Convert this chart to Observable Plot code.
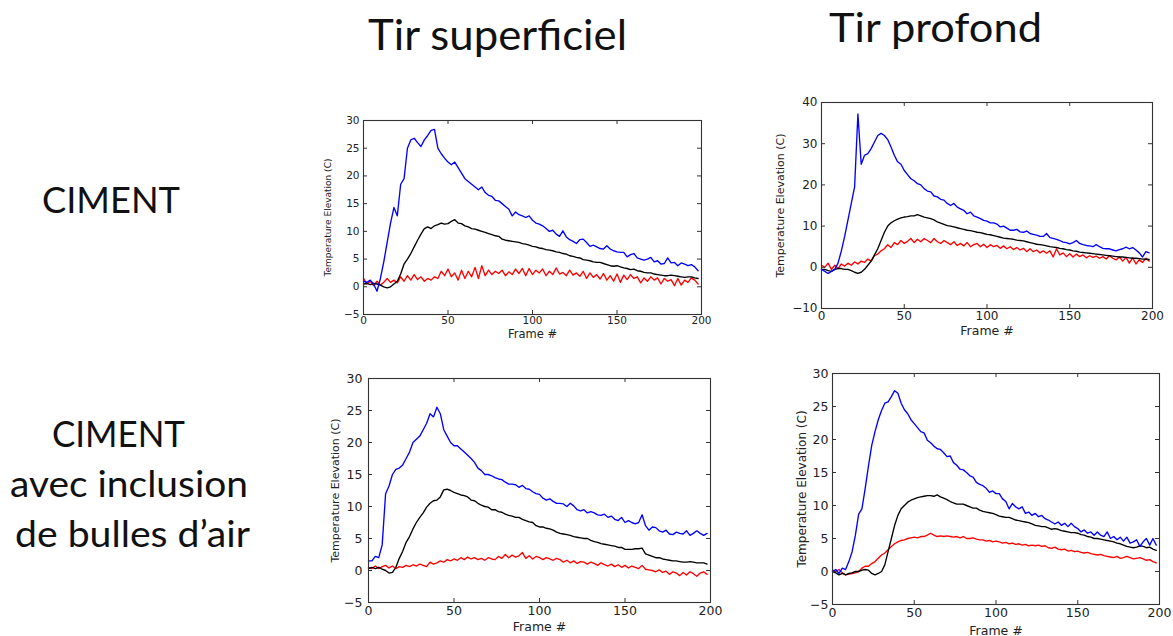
<!DOCTYPE html>
<html>
<head>
<meta charset="utf-8">
<script src="https://cdn.jsdelivr.net/npm/d3@7"></script>
<script src="https://cdn.jsdelivr.net/npm/@observablehq/plot@0.6"></script>
<style>
  html, body { margin: 0; padding: 0; background: #fff; }
  #page { position: relative; width: 1173px; height: 636px; overflow: hidden; background: #fff; }
  .panel { position: absolute; }
  #titles { position: absolute; left: 0; top: 0; }
</style>
</head>
<body>
<div id="page">
  <svg id="titles" width="1173" height="636"></svg>
</div>
<script>
// ---------------- DATA ----------------
const columnTitles = ["Tir superficiel", "Tir profond"];
const rowTitles = [["CIMENT"], ["CIMENT", "avec inclusion", "de bulles d\u2019air"]];
const xLabel = "Frame #";
const yLabel = "Temperature Elevation (C)";
const xTicks = [0, 50, 100, 150, 200];
const yTicks30 = [-5, 0, 5, 10, 15, 20, 25, 30];
const yTicks40 = [-10, 0, 10, 20, 30, 40];

const frames = [0,2,4,6,8,10,12,14,16,18,20,22,24,26,28,30,32,34,36,38,40,42,44,46,48,50,52,54,56,58,60,62,64,66,68,70,72,74,76,78,80,82,84,86,88,90,92,94,96,98,100,102,104,106,108,110,112,114,116,118,120,122,124,126,128,130,132,134,136,138,140,142,144,146,148,150,152,154,156,158,160,162,164,166,168,170,172,174,176,178,180,182,184,186,188,190,192,194,196,198];

// Ciment, tir superficiel
const cimSupBlue = [1.0,0.8,1.2,0.5,-0.8,1.5,4.5,8,11.5,14.3,12.8,18.5,19.5,25,26.5,26.8,26,25.3,26.5,27.3,28.2,28.4,25,24,23.2,22.5,22,22.5,21.5,20.5,19.5,19,18.5,18,17.5,18,17,16.5,16.3,15.6,15.5,15,14.5,14,12.8,13.5,13,12.8,12.5,12.8,12,11.5,11.3,11,10.5,10,10.2,9.5,9.1,10.1,9,8.5,8.2,7.8,8.5,8.6,8,7.3,7.5,7.2,6.9,6.8,7.4,6.8,6.5,6.3,6.2,6.2,5.4,5.8,6,5.2,5,4.8,5,5.3,4.5,4.7,4.1,4.2,5.2,4.3,4.4,3.8,4.3,4.1,3.8,4,3.6,2.9];
const cimSupBlack = [0.5,0.6,0.4,0.6,0.5,0.3,0,-0.2,0,0.5,1,2.3,4.1,5,6,7.2,8.4,9.5,10.5,10.8,10.5,11,11.2,11.5,11.3,11.4,11.8,12.1,11.5,11.4,11,10.8,10.5,10.4,10.2,10,9.8,9.6,9.4,9.2,9.1,8.6,8.4,8.3,8.2,8.1,8,7.8,7.7,7.5,7.3,7.2,7,6.9,6.7,6.6,6.5,6.3,6.2,6,5.9,5.6,5.5,5.3,5.2,4.9,4.8,4.7,4.5,4.4,4.4,4.2,4,3.8,3.7,3.8,3.6,3.4,3.3,3.1,3.2,2.9,2.8,2.6,2.5,2.5,2.3,2.2,2.1,2,2,2.1,2,1.9,1.8,1.7,1.8,1.8,1.6,1.5];
const cimSupRed = [1.5,0.5,1,0.2,1,0.3,0.8,1.5,0.8,1.2,0.7,1.8,1,2,1.2,2.2,1.3,1.8,1,1.5,1.2,1.8,1.5,2.8,2,3.2,1.8,2.5,1.2,3,1.5,2.8,1.8,3.5,1.5,3.8,2,3,2.2,2.8,2.4,3,2,2.7,2.2,3.2,2.4,3.3,2,3.3,2.2,3,2.5,3.2,2,2.8,2.2,3.4,2.3,2.6,2,3,2.1,2.5,1.9,2.8,1.5,2.5,1.7,2.2,1.4,2.4,1.2,2,1,2.3,0.8,2.1,1.3,2.2,1.5,1.8,0.7,1.6,1,1.8,1.2,1.6,0.5,1.5,1,1.3,0.2,1.5,0.3,1.2,0.8,1.6,1.2,0.5];

// Ciment, tir profond
const cimProBlue = [-0.5,-1,-1.5,-1,-0.5,1,4,7.5,11.5,15.5,19.5,37.2,25,27.2,27.6,28.8,30.4,32,32.5,32,31,29.2,27.2,25.6,25,23.5,22.5,21.5,21,20.3,20,19.1,18.5,18.3,17.3,17.1,16.5,16.3,15.5,15,15.5,14.6,14.2,13.8,13,13.4,12.5,12.2,11.8,11.4,11.2,10.8,10.8,10.5,9.8,10,9.5,9,9,9.2,8.6,8.5,8.8,8.2,8,7.8,7.5,7.5,8.2,7.2,7,6.8,6.5,6.1,6,5.7,6,6.5,5.8,5.5,5.3,5.2,5,5.5,5,4.6,4.5,4.5,4.2,4,4.3,4.5,4.9,4.5,4.8,4.2,3.5,2.5,3.8,3.5];
const cimProBlack = [-0.5,-0.5,-0.8,-1,-0.5,-0.3,-0.3,-0.5,-0.5,-0.8,-1.2,-1.5,-1.2,-0.5,0.5,1.5,3,4.5,6.5,8.5,10,10.8,11.3,11.7,12,12.2,12.3,12.5,12.5,12.8,12.5,12.2,12,11.8,11.5,11,10.7,10.4,10.1,10,9.8,9.6,9.4,9.2,9,8.9,8.7,8.5,8.4,8.2,8,7.9,7.7,7.5,7.3,7.1,7,6.9,6.8,6.6,6.5,6.4,6.2,6,5.8,5.6,5.5,5.4,5.2,5,4.9,4.8,4.6,4.5,4.3,4.2,4,3.9,3.7,3.6,3.5,3.4,3.3,3.2,3.1,3,2.9,2.8,2.7,2.6,2.5,2.5,2.4,2.3,2.2,2.2,2.1,2,2,1.9];
const cimProRed = [0.5,0,1,-0.5,0.5,-0.3,0.8,0.3,1,0.5,1.3,0.8,1.5,1.2,2,1.5,2.8,3.2,4,4.5,5.5,4.8,6,5.5,6.5,5.8,6.3,7,6,6.8,6.2,7,6.5,6,7,6.2,5.8,6.5,6,5.5,6.2,5.3,5.8,5.2,6,5,5.5,5.8,5,5.6,4.8,5.5,5,5.3,4.6,5.2,4.5,5,4.3,4.8,4.2,4.6,3.8,4.5,3.8,4.2,3.5,4,3.4,4,2.5,4.5,3,3.5,2.6,3.3,2.5,3.2,2.6,3,2.3,2.8,2.4,2.7,2.2,2.6,2,2.8,2.2,1.8,2.5,1.5,2.4,1,2.3,0.8,1.8,1.2,2.2,1.5];

// Ciment avec bulles d'air, tir superficiel
const bulSupBlue = [1.5,1.5,2.2,2,4,12,13.2,15,15.8,16,16.5,17.5,18.5,20,20.5,21,22,23,24.5,24,25.5,24.5,22,21,20,19.5,19.5,19,18.5,18,17.5,16.9,16,15.6,15,15,14.8,14.5,14.3,14.2,13.8,13.5,13.5,13.4,13,13.3,12.8,12.7,12.3,12,11.9,11.3,11,11.2,10.8,10.5,10.5,10.4,10,10.5,10.1,9.5,9.3,9.5,9,9.2,9,8.7,8.6,8.8,8.3,8.5,8,7.8,8.3,7.5,7.8,7.5,7.3,7.5,8.7,7,6.3,6.8,6.7,6.2,6,6.3,5.7,5.6,6,5.8,5.7,6.2,5.5,5.8,6.2,5.8,5.5,5.8];
const bulSupBlack = [0.3,0.5,0.3,0.5,0.2,0,-0.4,-0.3,0.5,1.9,3,4.4,5.3,6.5,7.5,8.3,9,9.9,10.5,10.9,11,11.5,12.6,12.7,12.5,12.2,12,11.8,11.7,11.5,11,10.9,10.5,10.2,10,9.9,9.5,9.5,9.2,9.1,8.8,8.6,8.5,8.3,8.3,8,7.8,7.6,7.5,7,6.8,6.8,6.6,6.5,6.3,6,5.8,5.7,5.6,5.5,5.3,5.2,5.1,5,5,4.7,4.5,4.4,4.2,4.1,4,3.9,3.8,3.6,3.6,3.3,3.3,3.3,3.4,3.4,3.5,2.6,2.4,2.2,2,2,1.8,1.7,1.6,1.5,1.5,1.4,1.3,1.3,1.4,1.3,1.2,1.2,1.2,1];
const bulSupRed = [0.5,0.3,0.7,0.3,0.6,0.8,0.4,0.7,0.3,0.6,0.5,0.8,0.6,0.9,0.7,1,0.8,0.6,1.3,1,1.2,1.5,1.3,1.7,1.5,1.8,1.6,2,1.7,2.1,1.8,2,1.7,1.9,1.6,2,1.8,1.7,2.2,1.9,2.5,2,2.4,2.1,2.3,2.8,1.9,2.3,1.8,2.2,2,1.7,2,1.8,1.6,1.9,1.7,1.3,1.6,1.2,1.5,1.1,1.4,1.3,1,1.3,1.1,0.8,1.2,0.9,0.7,1,0.6,0.9,0.5,0.8,0.4,0.7,0.5,0.3,0.8,0.2,0.1,0,-0.2,0.1,-0.3,-0.1,-0.6,-0.2,-0.4,-0.8,-0.3,-0.7,-0.2,-0.5,-0.9,-0.4,-0.2,-0.6];

// Ciment avec bulles d'air, tir profond
const bulProBlue = [0,0.3,-0.3,0.5,0.3,1.5,3,5.5,8.7,9.5,12.6,16,19.1,21.2,23,24.4,25.5,25.7,26.5,27.4,27,25.5,24.5,23.9,23,22.4,21.8,21.2,21,19.9,19.5,19,18.6,18.5,18,17.4,17.5,16.5,16.1,15.5,15.4,15,14.5,14.3,13.5,13.2,13,12.6,12,12.2,11.8,11.8,11,10.6,9.5,10.3,9.8,9.5,9.8,8.8,9,8.5,8.8,8.3,8.5,8,7.8,7.5,7.2,7.5,7,7.3,6.8,7.3,6.8,6.5,6,6.3,5.8,6,5.5,6,5.5,5.3,6,5,5.3,4.8,5.2,4.6,5.2,4.3,4.5,4.8,3.8,4.5,5,4,5,4];
const bulProBlack = [0,-0.2,-0.5,-0.3,-0.5,-0.3,-0.2,0,0,0.2,0.3,0.2,-0.3,-0.5,-0.3,0,1,3,5,7,8.5,9.5,10,10.5,10.8,11,11.2,11.3,11.4,11.5,11.5,11.4,11.6,11.3,11.1,10.9,10.6,10.4,10.2,10.2,10.2,10,9.8,9.6,9.6,9.3,9.1,9,8.9,8.8,8.6,8.4,8.3,8.2,8.2,8,7.8,7.7,7.6,7.5,7.4,7.2,7,6.9,6.8,6.8,6.6,6.4,6.5,6.4,6.2,6.1,6,5.9,5.9,5.8,5.6,5.5,5.3,5.2,5,5,4.9,4.8,4.7,4.6,4.5,4.3,4.2,4,3.8,3.7,3.6,3.7,3.9,3.8,3.6,3.7,3.4,3.2];
const bulProRed = [0.2,0,0.3,-0.2,-0.5,-0.4,-0.3,-0.2,0,0.5,0.8,0.8,1.2,1.5,2,2.5,2.8,3.3,3.8,4.2,4.5,4.7,4.8,5,5.1,5.2,5.1,5.3,5.3,5.5,5.8,5.5,5.3,5.4,5.3,5.4,5.3,5.2,5.3,5.1,5.3,5,5,5.1,4.9,4.8,4.8,4.6,4.7,4.5,4.6,4.5,4.3,4.4,4.2,4.3,4.1,4.2,4,4.1,3.9,4,3.9,4,3.8,3.9,3.6,3.5,3.7,3.4,3.3,3.4,3.1,3.2,3,3.1,2.9,2.8,2.9,2.7,2.6,2.5,2.6,2.4,2.3,2.2,2.1,2.3,2,2.1,2.3,2.1,1.9,2,2.1,1.9,1.7,1.8,1.5,1.3];

// ---------------- LAYOUT / STYLE ----------------
const panels = [
  {blue: cimSupBlue, black: cimSupBlack, red: cimSupRed, yDomain: [-5, 30], yTicks: yTicks30,
   left: 363, top: 120, w: 338, h: 194, tickFont: 10.5, padX: 2, padY: 4, yLabFont: 9, yLabDx: -35, xLabFont: 11.5, xLabDy: 19.5},
  {blue: cimProBlue, black: cimProBlack, red: cimProRed, yDomain: [-10, 40], yTicks: yTicks40,
   left: 821, top: 102, w: 331, h: 206, tickFont: 12, padX: 3, padY: 4, yLabFont: 11, yLabDx: -41, xLabFont: 12.5, xLabDy: 22.5},
  {blue: bulSupBlue, black: bulSupBlack, red: bulSupRed, yDomain: [-5, 30], yTicks: yTicks30,
   left: 368, top: 378, w: 342, h: 224, tickFont: 12.5, padX: 4, padY: 6, yLabFont: 11, yLabDx: -33, xLabFont: 12.5, xLabDy: 24},
  {blue: bulProBlue, black: bulProBlack, red: bulProRed, yDomain: [-5, 30], yTicks: yTicks30,
   left: 832, top: 373, w: 327, h: 231, tickFont: 12.5, padX: 4, padY: 4, yLabFont: 12, yLabDx: -30, xLabFont: 12.5, xLabDy: 26}
];

const ML = 55, MR = 14, MT = 10, MB = 34;
const page = document.getElementById("page");

for (const p of panels) {
  const chart = Plot.plot({
    width: ML + p.w + MR,
    height: MT + p.h + MB,
    marginLeft: ML, marginRight: MR, marginTop: MT, marginBottom: MB,
    style: {fontFamily: "DejaVu Sans, sans-serif", fontSize: p.tickFont + "px", color: "#222", background: "transparent", overflow: "visible"},
    x: {domain: [0, 200], label: null},
    y: {domain: p.yDomain, label: null},
    marks: [
      Plot.line(p.red, {x: (d, i) => frames[i], y: d => d, stroke: "#ff0000", strokeWidth: 1.35}),
      Plot.line(p.black, {x: (d, i) => frames[i], y: d => d, stroke: "#000000", strokeWidth: 1.35}),
      Plot.line(p.blue, {x: (d, i) => frames[i], y: d => d, stroke: "#0000ff", strokeWidth: 1.35}),
      Plot.tickX(xTicks, {x: d => d, insetTop: p.h - 4, stroke: "#333"}),
      Plot.tickX(xTicks, {x: d => d, insetBottom: p.h - 4, stroke: "#333"}),
      Plot.tickY(p.yTicks, {y: d => d, insetRight: p.w - 4, stroke: "#333"}),
      Plot.tickY(p.yTicks, {y: d => d, insetLeft: p.w - 4, stroke: "#333"}),
      Plot.frame({stroke: "#333", strokeWidth: 1.1}),
      Plot.axisX(xTicks, {tickSize: 0, tickPadding: p.padX, label: null, fontSize: p.tickFont}),
      Plot.axisY(p.yTicks, {tickSize: 0, tickPadding: p.padY, label: null, fontSize: p.tickFont}),
      Plot.text([xLabel], {frameAnchor: "bottom", dy: p.xLabDy, textAnchor: "middle", lineAnchor: "middle", fontSize: p.xLabFont, fill: "#222"}),
      Plot.text([yLabel], {frameAnchor: "left", dx: p.yLabDx, rotate: -90, textAnchor: "middle", lineAnchor: "middle", fontSize: p.yLabFont, fill: "#222"})
    ]
  });
  const wrap = document.createElement("div");
  wrap.className = "panel";
  wrap.style.left = (p.left - ML) + "px";
  wrap.style.top = (p.top - MT) + "px";
  wrap.appendChild(chart);
  page.appendChild(wrap);
}

// ---------------- TITLES ----------------
const titleSvg = d3.select("#titles");
const titleFont = "Lato, 'Open Sans', sans-serif";
const texts = [
  {t: columnTitles[0], x: 368, y: 50, len: 259, size: 42},
  {t: columnTitles[1], x: 829, y: 41.5, len: 213, size: 41},
  {t: rowTitles[0][0], x: 42, y: 212.5, len: 138, size: 37},
  {t: rowTitles[1][0], x: 52, y: 447, len: 133, size: 37},
  {t: rowTitles[1][1], x: 10, y: 497, len: 238, size: 37},
  {t: rowTitles[1][2], x: 15, y: 547, len: 235, size: 37}
];
for (const d of texts) {
  titleSvg.append("text")
    .attr("x", d.x).attr("y", d.y)
    .attr("font-family", titleFont)
    .attr("font-size", d.size)
    .attr("fill", "#111")
    .attr("textLength", d.len)
    .attr("lengthAdjust", "spacingAndGlyphs")
    .text(d.t);
}
</script>
</body>
</html>
